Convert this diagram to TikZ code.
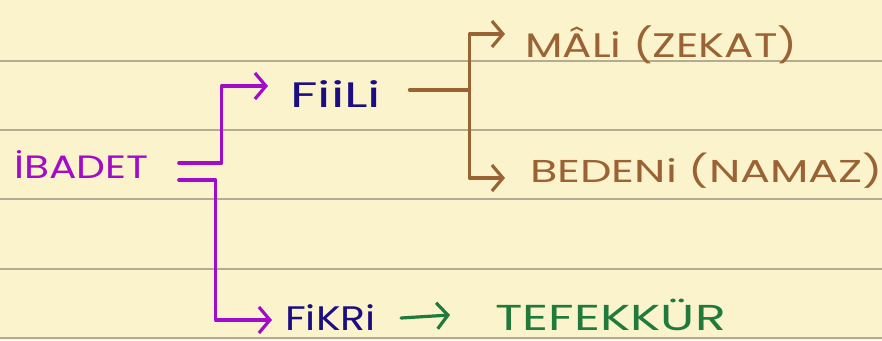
\documentclass[tikz,border=0pt]{standalone}
\usepackage{fontspec}
\setmainfont{Poppins}
\usetikzlibrary{arrows.meta}
\definecolor{paper}{HTML}{FAF3CC}
\definecolor{rule}{HTML}{B3AB92}
\definecolor{purp}{HTML}{A20CC8}
\definecolor{navy}{HTML}{1C0E82}
\definecolor{brwn}{HTML}{9B6234}
\definecolor{grn}{HTML}{1F7A3C}
\tikzset{
  lbl/.style={inner sep=0pt, anchor=base west, font=\fontsize{34}{34}\selectfont},
  conn/.style={line width=3.2pt, line cap=round, line join=round,
    -{Straight Barb[length=11pt,width=26pt,line width=3.2pt]}},
  plain/.style={line width=3.2pt, line cap=round, line join=round},
  ruled/.style={rule, line width=1.3pt}
}
\begin{document}
\begin{tikzpicture}[x=1pt,y=-1pt]
\fill[paper] (0,0) rectangle (882,340);
\useasboundingbox (0,0) rectangle (882,340);
\foreach \yy in {61,130,199,269,338} \draw[ruled] (0,\yy) -- (882,\yy);

\node[lbl, text=purp] (ibadet) at (14,178) {\scalebox{1.2}[0.95]{İBADET}};
\node[lbl, text=navy] (fiili) at (290,107) {\scalebox{1.6}[1.04]{FiiLi}};
\node[lbl, text=navy] (fikri) at (285,330) {\scalebox{1.21}[1.0]{FiKRi}};
\node[lbl, text=brwn] (mali) at (525,57) {\scalebox{1.28}[1.0]{MÂLi (ZEKAT)}};
\node[lbl, text=brwn] (bedeni) at (530,182) {\scalebox{1.31}[0.93]{BEDENi (NAMAZ)}};
\node[lbl, text=grn] (tefekkur) at (495,330) {\scalebox{1.49}[1.06]{TEFEKKÜR}};

\draw[conn, purp] ([xshift=30pt,yshift=15pt]ibadet.base east) -- ([xshift=73pt,yshift=15pt]ibadet.base east)
  |- ([xshift=-22pt,yshift=21pt]fiili.base west);
\draw[conn, purp] ([xshift=30pt,yshift=-2pt]ibadet.base east) -- ([xshift=67pt,yshift=-2pt]ibadet.base east)
  |- ([xshift=-13pt,yshift=10pt]fikri.base west);

\coordinate (bb) at ([xshift=88pt,yshift=17pt]fiili.base east);
\draw[plain, brwn] ([xshift=28pt,yshift=17pt]fiili.base east) -- (bb);
\draw[conn, brwn] (bb) |- ([xshift=-20pt,yshift=23pt]mali.base west);
\draw[conn, brwn] (bb) |- ([xshift=-25pt,yshift=4pt]bedeni.base west);

\draw[conn, grn] ([xshift=25pt,yshift=12pt]fikri.base east) -- ([xshift=-45pt,yshift=15pt]tefekkur.base west);
\end{tikzpicture}
\end{document}
